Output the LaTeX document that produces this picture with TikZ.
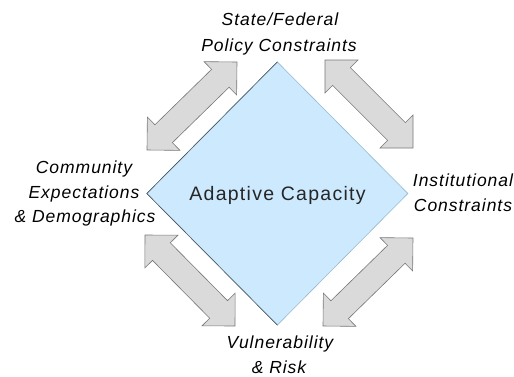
\documentclass[tikz,border=0pt]{standalone}
\usepackage{fontspec}
\setmainfont{Liberation Sans}
\newfontfamily\lblfont[LetterSpace=5.5]{Liberation Sans}
\newfontfamily\ctrfont[LetterSpace=6.5]{Liberation Sans}
\usetikzlibrary{shapes.geometric,calc}
\definecolor{arrowfill}{RGB}{218,218,218}
\definecolor{arrowedge}{RGB}{120,120,120}
\definecolor{diafill}{RGB}{204,233,253}
\definecolor{diaedge}{RGB}{150,185,210}
\definecolor{diadark}{RGB}{60,70,80}
% double-headed block arrow between two named coordinates
\newcommand{\blockdbl}[2]{%
  \filldraw[blockarrow] (#1)
    -- ($(#1)!23.3pt!(#2)!23.3pt!90:(#2)$)
    -- ($(#1)!23.3pt!(#2)!12.5pt!90:(#2)$)
    -- ($(#2)!23.3pt!(#1)!12.5pt!-90:(#1)$)
    -- ($(#2)!23.3pt!(#1)!23.3pt!-90:(#1)$)
    -- (#2)
    -- ($(#2)!23.3pt!(#1)!23.3pt!90:(#1)$)
    -- ($(#2)!23.3pt!(#1)!12.5pt!90:(#1)$)
    -- ($(#1)!23.3pt!(#2)!12.5pt!-90:(#2)$)
    -- ($(#1)!23.3pt!(#2)!23.3pt!-90:(#2)$)
    -- cycle;}
\begin{document}
\begin{tikzpicture}[x=1pt,y=-1pt,
  lbl/.style={font={\lblfont\itshape\fontsize{17.5}{20}\selectfont}, anchor=base, inner sep=0pt, text=black},
  blockarrow/.style={fill=arrowfill, draw=arrowedge, line width=0.6pt, line join=miter},
  dia/.style={diamond, fill=diafill, draw=diaedge, line width=0.6pt,
    minimum width=261pt, minimum height=263pt, inner sep=0pt, text depth=0pt,
    font={\ctrfont\fontsize{19.5}{22}\selectfont}, text=black!85}]
\useasboundingbox[fill=white] (0,0) rectangle (514,376);

% arrow end points
\coordinate (tlA) at (147,150); \coordinate (tlB) at (237,62);
\coordinate (trA) at (325,60);  \coordinate (trB) at (413,148);
\coordinate (blA) at (145,235); \coordinate (blB) at (235,326);
\coordinate (brA) at (323,326); \coordinate (brB) at (413,238);

\blockdbl{tlA}{tlB}
\blockdbl{trA}{trB}
\blockdbl{blA}{blB}
\blockdbl{brA}{brB}

% central diamond
\node[dia] (ac) at (277.5,193.5) {Adaptive Capacity};
\draw[diadark, line width=0.5pt] (ac.north) -- (ac.west) -- (ac.south);

% labels
\node[lbl] (top1) at (280,25.5) {State/Federal};
\node[lbl] (top2) at (279,51.5) {Policy Constraints};
\node[lbl] (lft1) at (84,173.5) {Community};
\node[lbl] (lft2) at (84,198) {Expectations};
\node[lbl] (lft3) at (85,222.5) {\& Demographics};
\node[lbl] (rgt1) at (463,186) {Institutional};
\node[lbl] (rgt2) at (463,211) {Constraints};
\node[lbl] (bot1) at (280,348) {Vulnerability};
\node[lbl] (bot2) at (279,373) {\& Risk};
\end{tikzpicture}
\end{document}
